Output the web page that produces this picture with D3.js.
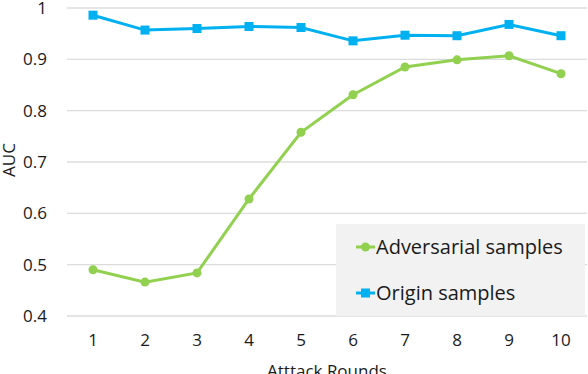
<!DOCTYPE html>
<html>
<head>
<meta charset="utf-8">
<script src="https://cdn.jsdelivr.net/npm/d3@7"></script>
<style>
  body { margin: 0; background: #fff; }
  text { font-family: "Open Sans", sans-serif; fill: #1a1a1a; }
</style>
</head>
<body>
<div id="chart"></div>
<script>
// Chart data
const rounds = [1, 2, 3, 4, 5, 6, 7, 8, 9, 10];
const adversarial = [0.490, 0.466, 0.484, 0.628, 0.758, 0.831, 0.885, 0.899, 0.907, 0.872];
const origin = [0.986, 0.957, 0.960, 0.964, 0.962, 0.936, 0.947, 0.946, 0.968, 0.946];
const yTicks = [0.4, 0.5, 0.6, 0.7, 0.8, 0.9, 1];

const W = 588, H = 374;
const margin = { top: 8, right: 1, bottom: 58, left: 67 };
const width = W - margin.left - margin.right;
const height = H - margin.top - margin.bottom;

const svg = d3.select('#chart')
    .append('svg')
    .attr('width', W)
    .attr('height', H);

const g = svg.append('g')
    .attr('transform', `translate(${margin.left},${margin.top})`);

// Scales
const x = d3.scaleBand()
    .domain(rounds)
    .range([0, width]);

const y = d3.scaleLinear()
    .domain([0.4, 1])
    .range([height, 0]);

const cx = d => x(d) + x.bandwidth() / 2;

// Gridlines
g.append('g')
    .selectAll('line')
    .data(yTicks)
    .enter()
    .append('line')
    .attr('x1', 0)
    .attr('x2', width)
    .attr('y1', d => y(d))
    .attr('y2', d => y(d))
    .attr('stroke', '#dcdcdc')
    .attr('stroke-width', 1.3);

// Y-axis
const yAxis = g.append('g')
    .call(d3.axisLeft(y).tickValues(yTicks).tickSize(0).tickPadding(20).tickFormat(d => d === 1 ? '1' : d3.format('.1f')(d)));
yAxis.select('.domain').remove();
yAxis.selectAll('text').style('font-size', '17px').attr('fill', '#1a1a1a');

// X-axis
const xAxis = g.append('g')
    .attr('transform', `translate(0, ${height})`)
    .call(d3.axisBottom(x).tickSize(0).tickPadding(18));
xAxis.select('.domain').remove();
xAxis.selectAll('text').style('font-size', '17px').attr('fill', '#1a1a1a');

// Axis titles
svg.append('text')
    .attr('transform', `translate(15, 160) rotate(-90)`)
    .attr('text-anchor', 'middle')
    .style('font-size', '17px')
    .text('AUC');

svg.append('text')
    .attr('x', 327)
    .attr('y', 377)
    .attr('text-anchor', 'middle')
    .style('font-size', '17px')
    .text('Atttack Rounds');

// Lines
const line = d3.line()
    .x((d, i) => cx(rounds[i]))
    .y(d => y(d));

const green = '#92d050', blue = '#00b0f0';

g.append('path')
    .datum(origin)
    .attr('fill', 'none')
    .attr('stroke', blue)
    .attr('stroke-width', 3)
    .attr('d', line);

g.selectAll('.sq')
    .data(origin)
    .enter()
    .append('rect')
    .attr('class', 'sq')
    .attr('x', (d, i) => cx(rounds[i]) - 4.5)
    .attr('y', d => y(d) - 4.5)
    .attr('width', 9)
    .attr('height', 9)
    .attr('fill', blue);

g.append('path')
    .datum(adversarial)
    .attr('fill', 'none')
    .attr('stroke', green)
    .attr('stroke-width', 3)
    .attr('d', line);

g.selectAll('.dot')
    .data(adversarial)
    .enter()
    .append('circle')
    .attr('class', 'dot')
    .attr('cx', (d, i) => cx(rounds[i]))
    .attr('cy', d => y(d))
    .attr('r', 4.5)
    .attr('fill', green);

// Legend
const legend = svg.append('g').attr('transform', 'translate(336, 224)');
legend.append('rect')
    .attr('width', 249)
    .attr('height', 92)
    .attr('fill', '#f2f2f2');

const items = [
    { name: 'Adversarial samples', color: green, shape: 'circle' },
    { name: 'Origin samples', color: blue, shape: 'square' }
];

const li = legend.selectAll('.legend-item')
    .data(items)
    .enter()
    .append('g')
    .attr('class', 'legend-item')
    .attr('transform', (d, i) => `translate(0, ${23 + i * 46})`);

li.append('line')
    .attr('x1', 20)
    .attr('x2', 39)
    .attr('stroke', d => d.color)
    .attr('stroke-width', 3);

li.each(function(d) {
    const s = d3.select(this);
    if (d.shape === 'circle') {
        s.append('circle').attr('cx', 29.5).attr('r', 4.5).attr('fill', d.color);
    } else {
        s.append('rect').attr('x', 25).attr('y', -4.5).attr('width', 9).attr('height', 9).attr('fill', d.color);
    }
});

li.append('text')
    .attr('x', 40)
    .attr('dy', '0.35em')
    .style('font-size', '20px')
    .text(d => d.name);
</script>
</body>
</html>
